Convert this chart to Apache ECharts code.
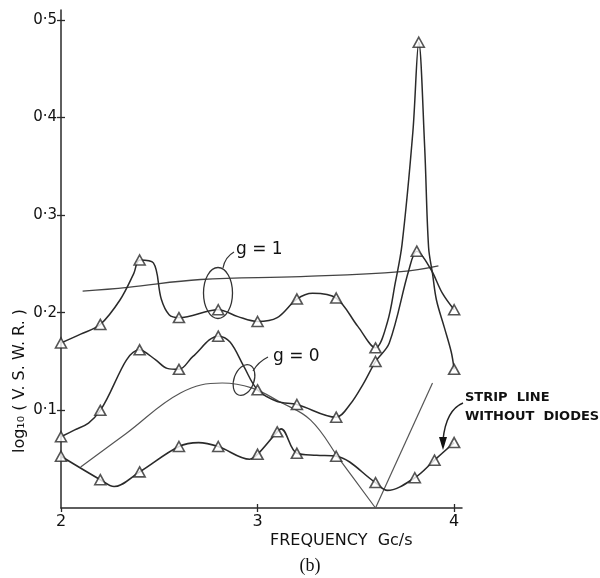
<!DOCTYPE html>
<html><head><meta charset="utf-8">
<script src="https://cdn.jsdelivr.net/npm/echarts@6/dist/echarts.min.js"></script>
<style>html,body{margin:0;padding:0;background:#fff}#c{width:600px;height:578px}</style>
</head><body><div id="c"></div>
<script>
// ---- axis ticks ----
const xTicks = [2, 3, 4];
const xTickLabels = ['2', '3', '4'];
const yTicks = [0.1, 0.2, 0.3, 0.4, 0.5];
const yTickLabels = ['0·1', '0·2', '0·3', '0·4', '0·5'];

// ---- measured points (triangles) ----
const upperPts = [[2.0,0.169],[2.2,0.188],[2.4,0.254],[2.6,0.195],[2.8,0.203],[3.0,0.191],[3.2,0.214],[3.4,0.215],[3.6,0.164],[3.82,0.477],[4.0,0.142]];
const middlePts = [[2.0,0.073],[2.2,0.100],[2.4,0.162],[2.6,0.142],[2.8,0.176],[3.0,0.121],[3.2,0.106],[3.4,0.093],[3.6,0.150],[3.81,0.263],[4.0,0.203]];
const stripPts = [[2.0,0.053],[2.2,0.029],[2.4,0.037],[2.6,0.063],[2.8,0.063],[3.0,0.055],[3.1,0.078],[3.2,0.056],[3.4,0.053],[3.6,0.026],[3.8,0.031],[3.9,0.049],[4.0,0.067]];

// ---- extra points (no marker) ----
const upperCurve = [[2.1,0.178],[2.3,0.213],[2.37,0.240],[2.47,0.251],[2.51,0.214],[2.55,0.198],[2.9,0.196],[3.1,0.195],[3.28,0.220],[3.51,0.186],[3.66,0.190],[3.70,0.230],[3.735,0.270],[3.79,0.385],[3.85,0.370],[3.87,0.267],[3.89,0.240],[3.91,0.213],[3.95,0.185],[3.985,0.160]];
const middleCurve = [[2.07,0.080],[2.14,0.087],[2.48,0.152],[2.54,0.143],[2.67,0.155],[2.86,0.170],[2.93,0.145],[3.1,0.109],[3.47,0.106],[3.54,0.128],[3.67,0.169],[3.77,0.244],[3.88,0.245],[3.94,0.220]];
const stripCurve = [[2.27,0.022],[2.7,0.067],[2.96,0.050],[3.12,0.081],[3.3,0.054],[3.66,0.018]];

// ---- unmarked theory curves ----
const g1Curve = [[2.11,0.222],[2.34,0.226],[2.71,0.234],[3.22,0.237],[3.73,0.242],[3.92,0.248]];
const g0Curve = [[2.1,0.042],[2.33,0.076],[2.61,0.118],[2.82,0.128],[2.97,0.123],[3.11,0.109],[3.27,0.090],[3.42,0.049],[3.6,0.0]];
const g0Rise = [[3.6,0.0],[3.89,0.128]];

function merge(a, b) { return a.concat(b).sort((p, q) => p[0] - q[0]); }

const INK = '#2a2a2a';
const FONT = 'DejaVu Sans';

const lineS = (data, w, c, smooth) => ({
  type: 'line', data: data, showSymbol: false, symbol: 'none', smooth: smooth,
  lineStyle: { color: c, width: w }, silent: true, z: 2, animation: false
});
const triS = (data) => ({
  type: 'scatter', data: data, symbol: 'triangle', symbolSize: [11, 10],
  itemStyle: { color: '#fff', borderColor: INK, borderWidth: 1.6 }, z: 5, animation: false
});

const chart = echarts.init(document.getElementById('c'));
chart.setOption({
  backgroundColor: '#fff',
  animation: false,
  grid: { left: 61, right: 138, top: 10, bottom: 70 },
  xAxis: [{
    type: 'value', min: 2, max: 4.04,
    axisLine: { lineStyle: { color: INK, width: 1.5 } },
    splitLine: { show: false },
    axisTick: { customValues: xTicks, length: 4, lineStyle: { color: INK, width: 1.3 } },
    axisLabel: { customValues: xTicks, formatter: v => xTickLabels[xTicks.indexOf(v)] || '',
      color: '#111', fontFamily: FONT, fontSize: 16, margin: 6 }
  }, {
    type: 'value', min: 2, max: 4.04, position: 'bottom',
    axisLine: { show: false }, splitLine: { show: false }, axisLabel: { show: false },
    axisTick: { customValues: [3, 4], inside: true, length: 4, lineStyle: { color: INK, width: 1.3 } }
  }],
  yAxis: [{
    type: 'value', min: 0, max: 0.51,
    axisLine: { show: true, lineStyle: { color: INK, width: 1.5 } },
    splitLine: { show: false },
    axisTick: { show: true, customValues: yTicks, length: 4, lineStyle: { color: INK, width: 1.3 } },
    axisLabel: { customValues: yTicks, formatter: v => yTickLabels[yTicks.indexOf(v)] || '',
      color: '#111', fontFamily: FONT, fontSize: 15, margin: 4 }
  }, {
    type: 'value', min: 0, max: 0.51, position: 'left',
    axisLine: { show: false }, splitLine: { show: false }, axisLabel: { show: false },
    axisTick: { show: true, customValues: yTicks, inside: true, length: 4, lineStyle: { color: INK, width: 1.3 } }
  }],
  series: [
    lineS(g1Curve, 1.3, '#444', 0.4),
    lineS(g0Curve, 1.2, '#555', 0.4),
    lineS(g0Rise, 1.2, '#555', false),
    lineS(merge(upperPts, upperCurve), 1.5, INK, 0.35),
    lineS(merge(middlePts, middleCurve), 1.5, INK, 0.35),
    lineS(merge(stripPts, stripCurve), 1.6, INK, 0.35),
    triS(upperPts), triS(middlePts), triS(stripPts)
  ],
  graphic: [
    { type: 'text', style: { text: 'g = 1', x: 236, y: 250, font: '17px ' + FONT, fill: '#111', verticalAlign: 'middle' } },
    { type: 'ellipse', shape: { cx: 218, cy: 293, rx: 14.5, ry: 25.5 }, style: { fill: 'none', stroke: '#333', lineWidth: 1.3 }, z: 10 },
    { type: 'bezierCurve', shape: { x1: 223, y1: 268, cpx1: 225, cpy1: 257, x2: 234, y2: 252 }, style: { fill: 'none', stroke: '#333', lineWidth: 1.2 } },
    { type: 'text', style: { text: 'g = 0', x: 273, y: 357, font: '17px ' + FONT, fill: '#111', verticalAlign: 'middle' } },
    { type: 'ellipse', x: 244, y: 380, rotation: -0.35, shape: { cx: 0, cy: 0, rx: 10, ry: 16 }, style: { fill: 'none', stroke: '#333', lineWidth: 1.2 }, z: 10 },
    { type: 'bezierCurve', shape: { x1: 253, y1: 371, cpx1: 258, cpy1: 362, x2: 268, y2: 357 }, style: { fill: 'none', stroke: '#333', lineWidth: 1.2 } },
    { type: 'text', style: { text: 'STRIP  LINE', x: 465, y: 398, font: 'bold 13px ' + FONT, fill: '#111', verticalAlign: 'middle' } },
    { type: 'text', style: { text: 'WITHOUT  DIODES', x: 465, y: 417, font: 'bold 13px ' + FONT, fill: '#111', verticalAlign: 'middle' } },
    { type: 'bezierCurve', shape: { x1: 463, y1: 403, cpx1: 446, cpy1: 410, x2: 443, y2: 440 }, style: { fill: 'none', stroke: '#222', lineWidth: 1.4 } },
    { type: 'polygon', shape: { points: [[439, 437], [447, 437], [443, 450]] }, style: { fill: '#111' } },
    { type: 'text', style: { text: 'FREQUENCY  Gc/s', x: 270, y: 541, font: '16px ' + FONT, fill: '#111', verticalAlign: 'middle' } },
    { type: 'text', x: 20, y: 381, rotation: Math.PI / 2, style: { text: 'log₁₀ ( V. S. W. R. )', x: 0, y: 0, font: '16px ' + FONT, fill: '#111', align: 'center', verticalAlign: 'middle' } },
    { type: 'text', style: { text: '(b)', x: 310, y: 566, font: '18px "Liberation Serif"', fill: '#111', align: 'center', verticalAlign: 'middle' } }
  ]
});
</script></body></html>
